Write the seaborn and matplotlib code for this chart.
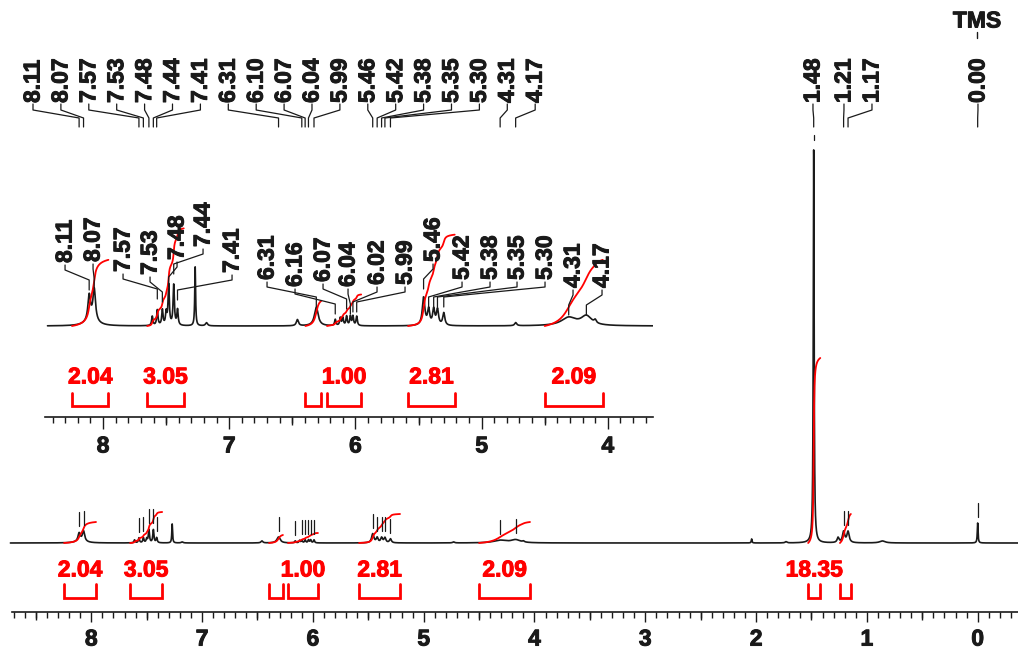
import numpy as np
import matplotlib
matplotlib.use("Agg")
import matplotlib.pyplot as plt
import matplotlib.markers as mmarkers
import matplotlib.patheffects as pe
from matplotlib.ticker import FixedLocator
import seaborn as sns

# peaks: shift (ppm), height (px above baseline, full view), half width (ppm)
peak_ppm = [8.11, 8.07, 8.09, 7.61, 7.57, 7.53, 7.50, 7.48, 7.44, 7.41, 7.27, 7.18, 6.46,
            6.31, 6.16, 6.12, 6.10, 6.07, 6.04, 6.02, 5.99,
            5.46, 5.42, 5.38, 5.35, 5.30, 4.73, 4.31, 4.17, 4.10,
            2.04, 1.73, 1.48, 1.26, 1.21, 1.17, 0.86, 0.00]
peak_height = [8, 10, 2, 3, 5, 5, 4, 13, 13, 5, 19, 1, 2,
               6, 2, 2.5, 2.5, 3, 3, 3, 3,
               9, 5, 5, 5, 4, 1, 2.6, 3, 1,
               4, 1.2, 393, 5, 11, 11, 2, 20]
peak_width = [0.012, 0.012, 0.05, 0.006, 0.006, 0.006, 0.006, 0.006, 0.006, 0.006, 0.004, 0.01, 0.01,
              0.018, 0.006, 0.006, 0.006, 0.006, 0.006, 0.006, 0.006,
              0.012, 0.01, 0.01, 0.01, 0.01, 0.01, 0.07, 0.05, 0.01,
              0.004, 0.01, 0.0045, 0.01, 0.012, 0.012, 0.03, 0.004]

# integral regions (ppm) with the rise of each curve (px, full view)
int_start = [8.246, 7.65, 6.396, 6.225, 5.583, 4.50, 1.53, 1.243]
int_end = [7.957, 7.36, 6.27, 5.954, 5.213, 4.04, 1.42, 1.144]
int_rise = [21, 31, 8, 10, 29, 21, 185, 29]
int_group = [0, 1, 2, 2, 3, 4, 5, 5]
int_value = ["2.04", "3.05", "1.00", "2.81", "2.09", "18.35"]

# peak picking labels
main_label = ["8.11", "8.07", "7.57", "7.53", "7.48", "7.44", "7.41", "6.31", "6.10", "6.07",
              "6.04", "5.99", "5.46", "5.42", "5.38", "5.35", "5.30", "4.31", "4.17",
              "1.48", "1.21", "1.17", "0.00"]
marker_ppm = [8.11, 8.07, 7.57, 7.53, 7.48, 7.44, 7.41, 6.31, 6.16, 6.10, 6.07, 6.04, 6.02, 5.99,
              5.46, 5.42, 5.38, 5.35, 5.30, 4.31, 4.17, 1.48, 1.21, 1.17, 0.00]
inset_label = ["8.11", "8.07", "7.57", "7.53", "7.48", "7.44", "7.41", "6.31", "6.16", "6.07",
               "6.04", "6.02", "5.99", "5.46", "5.42", "5.38", "5.35", "5.30", "4.31", "4.17"]

RED = "#ff0000"
FS = 16.5

# layout (pixel positions of the label texts)
main_label_px = [33 + 27.9 * k for k in range(19)] + [813, 844, 872, 978]
inset_label_px = [65, 93, 123, 150, 177, 203, 232, 267, 295, 323, 348, 377, 405, 433, 462, 490,
                  517, 545, 573, 602]
inset_label_bot = [263, 262, 272, 275, 260, 247, 273, 280, 287, 282, 287, 285, 285, 262, 280, 280,
                   280, 280, 288, 288]

ppm = np.arange(8.73, -0.37, -0.0005)
pk = np.array(peak_ppm)[:, None]
spec = (np.array(peak_height)[:, None] /
        (1 + ((ppm[None, :] - pk) / np.array(peak_width)[:, None]) ** 2)).sum(axis=0)

sns.set_theme(style="white")
plt.rcParams["font.family"] = ["Liberation Sans", "DejaVu Sans"]
plt.rcParams["font.weight"] = "bold"

fig = plt.figure(figsize=(10.18, 6.55), dpi=100)

heavy_k = [pe.withStroke(linewidth=0.7, foreground="k")]
heavy_r = [pe.withStroke(linewidth=0.7, foreground=RED)]


def mx(px):
    return (977.7 - px) / 110.8


def my(py):
    return 543 - py


def ix(px):
    return 8 - (px - 103) / 126.2


def iy(py):
    return 326 - py


def style_axis(a, lo, hi, major_len, minor_len, mid_len):
    for s in ["top", "left", "right"]:
        a.spines[s].set_visible(False)
    a.spines["bottom"].set_color("k")
    a.spines["bottom"].set_linewidth(1.2)
    a.spines["bottom"].set_bounds(lo, hi)
    a.set_yticks([])
    majors = [v for v in range(0, 10) if hi <= v <= lo]
    minors = [round(v, 1) for v in np.arange(-1, 10, 0.1) if hi <= v <= lo and abs(v - round(v)) > 0.01]
    mids = [v + 0.5 for v in range(-1, 10) if hi <= v + 0.5 <= lo]
    a.xaxis.set_major_locator(FixedLocator(majors))
    a.xaxis.set_minor_locator(FixedLocator(minors))
    a.set_xticklabels([str(v) for v in majors], fontsize=FS, fontweight="bold")
    for t in a.get_xticklabels():
        t.set_path_effects(heavy_k)
    a.tick_params(axis="x", which="major", bottom=True, direction="out", length=major_len,
                  width=1, color="k", pad=4, labelcolor="k")
    a.tick_params(axis="x", which="minor", bottom=True, direction="out", length=minor_len,
                  width=1, color="k")
    a.plot(mids, np.zeros(len(mids)), transform=a.get_xaxis_transform(), marker=mmarkers.TICKDOWN,
           ms=mid_len, mew=1, ls="none", color="k", clip_on=False)
    a.grid(False)


# ---------------- full spectrum ----------------
ax = fig.add_axes([0, 43 / 655, 1, 612 / 655])
ax.patch.set_alpha(0)
sns.lineplot(x=ppm, y=spec, ax=ax, color="k", linewidth=1.2, estimator=None, sort=False)
ax.set_xlim(8.824, -0.364)
ax.set_ylim(-69, 543)
style_axis(ax, mx(12), -0.364, 7.2, 4.2, 5.6)

for s, e, r in zip(int_start, int_end, int_rise):
    m = (ppm <= s) & (ppm >= e)
    c = np.cumsum(spec[m])
    c = (c - c[0]) / (c[-1] - c[0]) * r
    sns.lineplot(x=ppm[m], y=c, ax=ax, color=RED, linewidth=1.3, estimator=None, sort=False)


def brackets(a, ytop, ybar, ytext, sel=None):
    for g, val in enumerate(int_value):
        idx = [i for i, gg in enumerate(int_group) if gg == g and (sel is None or i in sel)]
        if not idx:
            continue
        for i in idx:
            s, e = int_start[i], int_end[i]
            a.plot([s, s, e, e], [ytop, ybar, ybar, ytop], color=RED, lw=2, solid_joinstyle="miter",
                   clip_on=False)
        w = max(idx, key=lambda i: int_start[i] - int_end[i])
        a.text((int_start[w] + int_end[w]) / 2, ytext, val, color=RED, fontsize=FS,
               fontweight="bold", ha="center", va="center", path_effects=heavy_r)


brackets(ax, my(584), my(598), my(570))

for p in marker_ppm:
    near = np.abs(ppm - p) < 0.012
    b = spec[near].max() + 6
    t = b + 14
    if t > 408:
        b, t = 403, 408
    ax.plot([p, p], [b, t], color="k", lw=0.9)

for lab, lx in zip(main_label, main_label_px):
    p = float(lab)
    ax.text(mx(lx), my(103), lab, rotation=90, fontsize=FS, fontweight="bold",
            ha="center", va="bottom", color="k", path_effects=heavy_k)
    ax.plot([mx(lx), mx(lx), p, p], [my(104), my(110), my(118), my(127)], color="k", lw=0.9,
            clip_on=False)

ax.text(mx(977), my(21), "TMS", fontsize=FS, fontweight="bold", ha="center", va="center",
        color="k", path_effects=heavy_k)
ax.plot([mx(977), mx(977)], [my(32), my(38)], color="k", lw=1)

# ---------------- expanded region ----------------
ax_in = fig.add_axes([45 / 1018, (655 - 417) / 655, 608 / 1018, 267 / 655])
ax_in.patch.set_alpha(0)
ax_in.set_xlim(8.46, 3.642)
ax_in.set_ylim(-91, 176)
m_in = (ppm <= 8.44) & (ppm >= 3.63)
sns.lineplot(x=ppm[m_in], y=spec[m_in] * 3.1, ax=ax_in, color="k", linewidth=1.2,
             estimator=None, sort=False)
style_axis(ax_in, 8.46, 3.642, 8.6, 4.3, 5.8)

in_sel = [i for i, s in enumerate(int_start) if s < 8.46 and int_end[i] > 3.64]
for i in in_sel:
    s, e, r = int_start[i], int_end[i], int_rise[i]
    m = (ppm <= s) & (ppm >= e)
    c = np.cumsum(spec[m])
    c = (c - c[0]) / (c[-1] - c[0]) * r * 3.15
    sns.lineplot(x=ppm[m], y=c, ax=ax_in, color=RED, linewidth=1.3, estimator=None, sort=False)

brackets(ax_in, iy(393), iy(406), iy(377), sel=in_sel)

for lab, lx, yb in zip(inset_label, inset_label_px, inset_label_bot):
    p = float(lab)
    ax_in.text(ix(lx), iy(yb), lab, rotation=90, fontsize=FS, fontweight="bold",
               ha="center", va="bottom", color="k", path_effects=heavy_k)
    ax_in.plot([ix(lx), ix(lx), p, p], [iy(yb + 2), iy(yb + 7), iy(yb + 17), iy(yb + 27)],
               color="k", lw=0.9, clip_on=False)

fig.savefig("out.png", dpi=100, facecolor="white")
